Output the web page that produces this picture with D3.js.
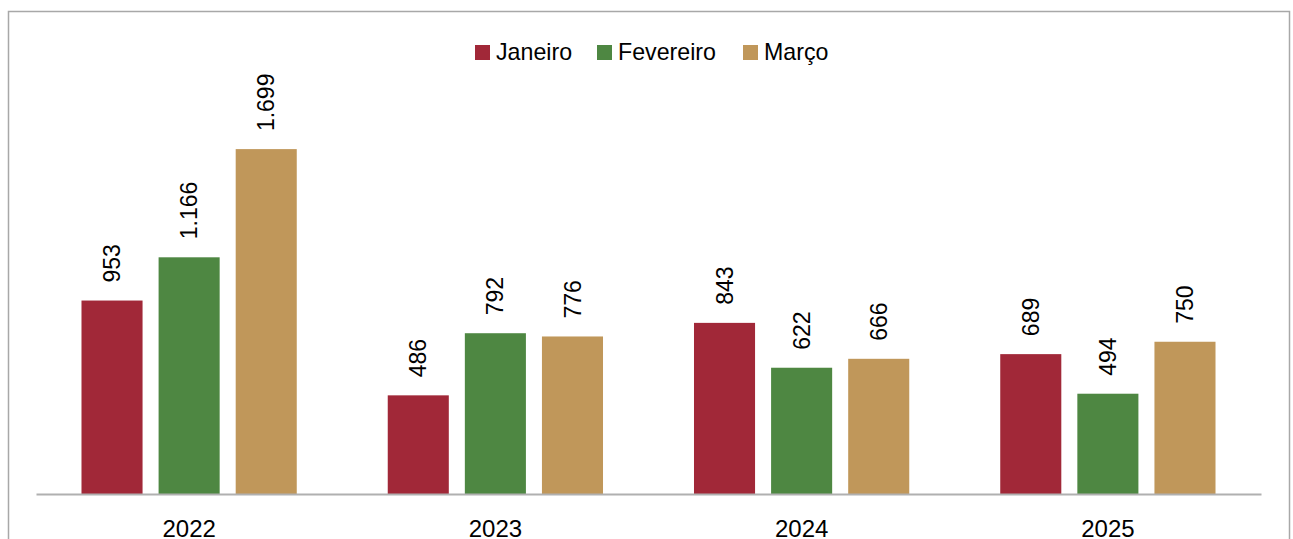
<!DOCTYPE html>
<html>
<head>
<meta charset="utf-8">
<script src="https://cdn.jsdelivr.net/npm/d3@7"></script>
<style>
  html, body { margin: 0; padding: 0; background: #fff; }
  svg { display: block; }
</style>
</head>
<body>
<div id="chart"></div>
<script>
const width = 1293;
const height = 539;

const years = ['2022', '2023', '2024', '2025'];
const months = ['Janeiro', 'Fevereiro', 'Março'];
const janeiro = [953, 486, 843, 689];
const fevereiro = [1166, 792, 622, 494];
const marco = [1699, 776, 666, 750];
const colors = ['#A12838', '#4E8742', '#C0975A'];

const seriesValues = [janeiro, fevereiro, marco];
const rows = years.map((y, i) => ({
  year: y,
  values: months.map((m, j) => ({ name: m, value: seriesValues[j][i] }))
}));

const ptBR = d3.formatLocale({ decimal: ',', thousands: '.', grouping: [3], currency: ['R$', ''] });
const fmt = ptBR.format(',d');

const baseline = 494;

const x0 = d3.scaleBand()
  .domain(years)
  .range([36, 1261])
  .padding(0);

const x1 = d3.scaleBand()
  .domain(months)
  .range([0, x0.bandwidth()])
  .paddingInner(0.208)
  .paddingOuter(0.59);

const y = d3.scaleLinear()
  .domain([0, 2000])
  .range([baseline, 88]);

const color = d3.scaleOrdinal().domain(months).range(colors);

const svg = d3.select('#chart').append('svg')
  .attr('width', width)
  .attr('height', height)
  .attr('font-family', '"Liberation Sans", Arial, sans-serif');

// outer frame
svg.append('rect')
  .attr('x', 8.5)
  .attr('y', 11.5)
  .attr('width', 1281)
  .attr('height', 560)
  .attr('fill', 'none')
  .attr('stroke', '#a8a8a8')
  .attr('stroke-width', 1.5);

const groups = svg.append('g')
  .selectAll('g')
  .data(rows)
  .join('g')
    .attr('transform', d => `translate(${x0(d.year)},0)`);

groups.selectAll('rect')
  .data(d => d.values)
  .join('rect')
    .attr('x', d => x1(d.name))
    .attr('y', d => y(d.value))
    .attr('width', x1.bandwidth())
    .attr('height', d => y(0) - y(d.value))
    .attr('fill', d => color(d.name));

groups.selectAll('text')
  .data(d => d.values)
  .join('text')
    .attr('transform', d => `translate(${x1(d.name) + x1.bandwidth() / 2},${y(d.value) - 18}) rotate(-90)`)
    .attr('text-anchor', 'start')
    .attr('dy', '0.35em')
    .attr('font-size', 23)
    .attr('fill', '#000')
    .text(d => fmt(d.value));

// x axis
const xAxis = svg.append('g')
  .attr('transform', `translate(0,${baseline})`)
  .call(d3.axisBottom(x0).tickSize(0).tickPadding(26));

xAxis.select('.domain')
  .attr('stroke', '#b0b0b0')
  .attr('stroke-width', 2);

xAxis.selectAll('text')
  .attr('font-size', 24)
  .attr('font-family', '"Liberation Sans", Arial, sans-serif')
  .attr('fill', '#000');

// legend
const legendX = [475, 597, 743];
const legend = svg.append('g')
  .selectAll('g')
  .data(months)
  .join('g')
    .attr('transform', (d, i) => `translate(${legendX[i]},45)`);

legend.append('rect')
  .attr('width', 15)
  .attr('height', 15)
  .attr('fill', d => color(d));

legend.append('text')
  .attr('x', 21)
  .attr('y', 15)
  .attr('font-size', 23.2)
  .attr('fill', '#000')
  .text(d => d);
</script>
</body>
</html>
